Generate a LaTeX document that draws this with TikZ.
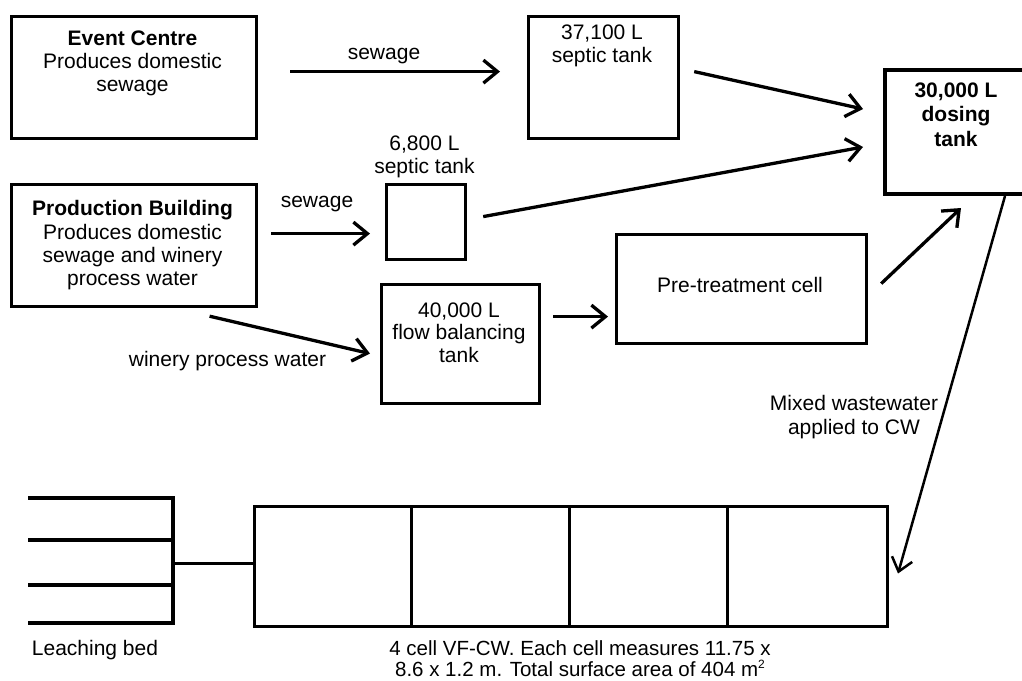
\documentclass[tikz,border=0pt]{standalone}
\usepackage{fontspec}
\setmainfont{Liberation Sans}
\usetikzlibrary{arrows.meta}
\begin{document}
\begin{tikzpicture}[x=1pt,y=-1pt,
  every node/.style={font=\fontsize{21}{23.3}\selectfont, inner sep=0pt},
  box/.style={draw, line width=3.2pt, rectangle, anchor=north west, inner sep=0pt},
  txt/.style={align=center, anchor=north},
  arr/.style={line width=3.3pt, -{Straight Barb[length=14pt,width=23pt]}},
  thinarr/.style={line width=2.5pt, -{Straight Barb[length=13pt,width=21pt]}}]
\useasboundingbox (0,0) rectangle (1022,680);
% boxes
\node[box, minimum width=245pt, minimum height=122pt] (ec) at (10,15) {};
\node[box, minimum width=150pt, minimum height=122pt] (st1) at (527,15) {};
\node[box, line width=4pt, minimum width=147pt, minimum height=124pt] (dose) at (883,68) {};
\node[box, minimum width=245pt, minimum height=122pt] (pb) at (10,183) {};
\node[box, minimum width=79pt, minimum height=75pt] (st2) at (385,183) {};
\node[box, minimum width=158pt, minimum height=119pt] (fb) at (380,283) {};
\node[box, minimum width=250pt, minimum height=109pt] (pre) at (615,233) {};
\node[box, line width=3pt, minimum width=633pt, minimum height=120pt] (cw) at (253,505) {};
% texts
\node[txt] (ect) at (132.5,30.5) {\textbf{Event Centre}\\Produces domestic\\sewage};
\node[txt] (st1t) at (602,24.5) {37,100 L\\septic tank};
\node[txt, font=\bfseries\fontsize{21}{24.5}\selectfont] (doset) at (956,82.5) {30,000 L\\dosing\\tank};
\node[txt] (pbt) at (132.5,200.5) {\textbf{Production Building}\\Produces domestic\\sewage and winery\\process water};
\node[txt] (st2t) at (424.5,135.5) {6,800 L\\septic tank};
\node[txt, font=\fontsize{21}{22.5}\selectfont] (fbt) at (459,302.5) {40,000 L\\flow balancing\\tank};
\node (pret) at (740,285) {Pre-treatment cell};
\node (lab1) at (384,56) {sewage};
\node (lab2) at (317,204) {sewage};
\node (lab3) at (227.5,361) {winery process water};
\node[txt] (lab4) at (854,395.5) {Mixed wastewater\\applied to CW};
\node (lbt) at (95,650) {Leaching bed};
\node[txt, font=\fontsize{20.5}{21}\selectfont] (cwt) at (580,640.5) {4 cell VF-CW. Each cell measures 11.75 x\\8.6 x 1.2 m. Total surface area of 404 m\smash{\raisebox{8pt}{\fontsize{12}{12}\selectfont 2}}};
% CW dividers
\foreach \xx in {411.25,569.5,727.75}
  \draw[line width=2.6pt] (\xx,505) -- (\xx,625);
% leaching bed
\draw[line width=3.4pt] (28,498) -- (173,498) -- (173,623) -- (28,623);
\draw[line width=3.4pt] (28,540) -- (173,540);
\draw[line width=3.4pt] (28,585) -- (173,585);
\coordinate (lb) at (173,563);
\draw[line width=3pt] (lb) -- (lb -| cw.west);
% connectors
\draw[arr] ([shift={(32,-6)}]ec.east) -- ([shift={(-27,-6)}]st1.west);
\draw[arr] ([shift={(14,-6)}]st1.east) -- ([shift={(-20,-23)}]dose.west);
\draw[arr] ([shift={(16,-5.5)}]st2.east) -- ([shift={(-20,15)}]dose.west);
\draw[arr] ([shift={(13,-12)}]pb.east) -- ([shift={(-15,11.5)}]st2.west);
\draw[arr] ([shift={(75.5,8)}]pb.south) -- ([shift={(-10,9.5)}]fb.west);
\draw[arr] ([shift={(12,-27.5)}]fb.east) -- ([shift={(-7,27.5)}]pre.west);
\draw[arr] ([shift={(13,-5.5)}]pre.east) -- ([shift={(2.5,12)}]dose.south);
\draw[thinarr] ([shift={(46.5,0)}]dose.south) -- ([shift={(9,7)}]cw.east);
\end{tikzpicture}
\end{document}
